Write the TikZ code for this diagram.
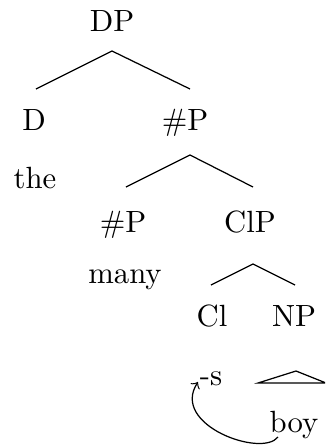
\documentclass[tikz,border=0pt]{standalone}
\usetikzlibrary{calc}
\begin{document}
\begin{tikzpicture}[x=0.3257pt,y=-0.3257pt,
  lbl/.style={inner sep=0pt, anchor=base},
  branch/.style={line width=0.4pt},
  move/.style={line width=0.4pt,->}]
\useasboundingbox (0,0) rectangle (325,446);
\clip (0,0) rectangle (325,446);
\node[lbl] (DP) at (112,31) {DP};
\node[lbl] (D) at (34,130) {D};
\node[lbl] (NumP) at (185,130) {\#P};
\node[lbl] (the) at (35,188) {the};
\node[lbl] (NumPb) at (123,232) {\#P};
\node[lbl] (ClP) at (250,232) {ClP};
\node[lbl] (many) at (125,283) {many};
\node[lbl] (Cl) at (212,326) {Cl};
\node[lbl] (NP) at (294,326) {NP};
\node[lbl] (s) at (211,385) {-s};
\node[lbl] (boy) at (294,432) {boy};
% DP branches
\draw[branch] ($(D.base)+(2,-41)$) -- ($(DP.base)+(0,20)$) -- ($(NumP.base)+(5,-41)$);
% #P branches
\draw[branch] ($(NumPb.base)+(3,-45)$) -- ($(NumP.base)+(5,25)$) -- ($(ClP.base)+(3,-45)$);
% ClP branches
\draw[branch] ($(Cl.base)+(-1,-41)$) -- ($(ClP.base)+(3,32)$) -- ($(NP.base)+(1,-41)$);
% triangle
\draw[branch] ($(NP.base)+(2,45)$) -- ($(boy.base)+(-36,-49)$) -- ($(boy.base)+(32,-49)$) -- cycle;
% movement arrow
\draw[move] ($(boy.base)+(-16,5)$) .. controls ($(boy.base)+(-32,26)$) and ($(s.base)+(-41,40)$) .. ($(s.base)+(-13,-3)$);
\end{tikzpicture}
\end{document}
